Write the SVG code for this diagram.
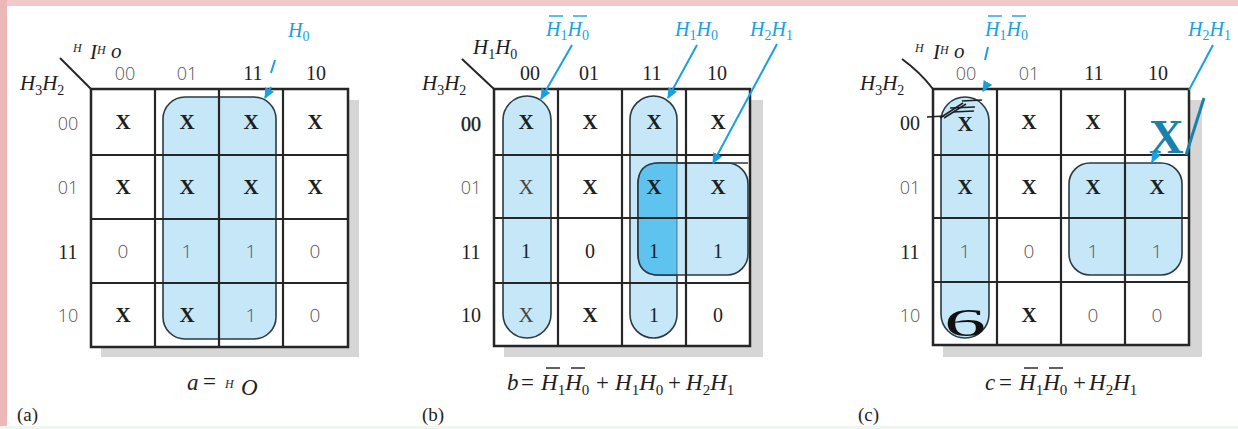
<svg xmlns="http://www.w3.org/2000/svg" width="1238" height="429" viewBox="0 0 1238 429">
<style>
.bg{fill:#ffffff}
.shadow{fill:#d6d6d6}
.cell{fill:#ffffff}
.grid{fill:none;stroke:#262626;stroke-width:2.5}
.gl{stroke:#262626;stroke-width:2.2}
.grp{fill:#c6e7f8;stroke:#2a3a44;stroke-width:1.6}
.ov{fill:#5fc3ef}
.diag{stroke:#262626;stroke-width:2;fill:none}
.x{font-family:"Liberation Serif",serif;font-weight:bold;font-size:21px;fill:#1e1e1e;text-anchor:middle}
.xs{font-family:"Liberation Serif",serif;font-size:21px;fill:#444;text-anchor:middle}
.n{font-family:"Open Sans","Liberation Sans",sans-serif;font-weight:300;font-size:19px;fill:#555;text-anchor:middle}
.ns{font-family:"Liberation Serif",serif;font-size:20px;fill:#1e1e1e;text-anchor:middle}
.lbl{font-family:"Open Sans","Liberation Sans",sans-serif;font-weight:300;font-size:18px;fill:#555;text-anchor:middle}
.lbs{font-family:"Liberation Serif",serif;font-size:20px;fill:#1e1e1e;text-anchor:middle}
.m{font-family:"Liberation Serif",serif;font-style:italic;font-size:21px;fill:#1e1e1e}
.f{font-family:"Liberation Serif",serif;font-style:italic;font-size:23px;fill:#1e1e1e}
.fo{font-family:"Liberation Serif",serif;font-size:23px;fill:#1e1e1e}
.sub{font-family:"Liberation Serif",serif;font-style:normal;font-size:14px;fill:#1e1e1e}
.fsub{font-family:"Liberation Serif",serif;font-style:normal;font-size:15px;fill:#1e1e1e}
.bm{font-family:"Liberation Serif",serif;font-style:italic;font-size:20px;fill:#1aa0e0}
.bsub{font-family:"Liberation Serif",serif;font-style:normal;font-size:14px}
.tiny{font-family:"Liberation Serif",serif;font-style:italic;font-size:12px;fill:#1e1e1e}
.cap{font-family:"Liberation Serif",serif;font-size:19px;fill:#1e1e1e}
.arr{stroke:#1aa0e0;stroke-width:2;fill:none}
.ob{stroke:#1e1e1e;stroke-width:1.4}
.obb{stroke:#1aa0e0;stroke-width:1.4}
</style>
<defs>
<marker id="ah" viewBox="0 0 10 10" refX="9" refY="5" markerWidth="11" markerHeight="11" markerUnits="userSpaceOnUse" orient="auto">
<path d="M0,0.5 L10,5 L0,9.5 z" fill="#1aa0e0"/>
</marker>
</defs>
<rect class="bg" x="0" y="0" width="1238" height="429"/>
<rect x="0" y="0" width="1238" height="6" fill="#f2c9c9"/>
<rect x="0" y="0" width="7" height="429" fill="#ebb7b7"/>
<rect x="0" y="426" width="1238" height="3" fill="#eef6f0"/>

<!-- Panel (a) -->
<g id="panel-a">
<rect class="shadow" x="101" y="100" width="258" height="257"/>
<rect class="cell" x="91" y="89" width="257" height="258"/>
<rect class="grp" x="163" y="97" width="113" height="242" rx="22"/>
<g id="grid-a">
<line class="gl" x1="155" y1="89" x2="155" y2="347"/>
<line class="gl" x1="219" y1="89" x2="219" y2="347"/>
<line class="gl" x1="283" y1="89" x2="283" y2="347"/>
<line class="gl" x1="91" y1="155" x2="348" y2="155"/>
<line class="gl" x1="91" y1="219" x2="348" y2="219"/>
<line class="gl" x1="91" y1="283" x2="348" y2="283"/>
<rect class="grid" x="91" y="89" width="257" height="258"/>
</g>
<line class="diag" x1="60" y1="58" x2="91" y2="89"/>
<text class="m" x="20" y="90">H<tspan class="sub" dy="5">3</tspan><tspan dy="-5">H</tspan><tspan class="sub" dy="5">2</tspan></text>
<text class="tiny" x="73" y="52">H</text>
<text class="m" x="90" y="59" font-size="16">I</text>
<text class="tiny" x="97" y="54">H</text>
<text class="m" x="111" y="58" font-size="15">o</text>
<text class="lbl" x="125" y="80">00</text>
<text class="lbl" x="187" y="80">01</text>
<text class="lbs" x="253" y="80">11</text>
<text class="lbs" x="316" y="80">10</text>
<text class="lbl" x="68" y="130">00</text>
<text class="lbl" x="68" y="194">01</text>
<text class="lbs" x="68" y="259">11</text>
<text class="lbl" x="68" y="322">10</text>
<g id="cells-a">
<text class="x" x="123" y="129">X</text><text class="x" x="187" y="129">X</text><text class="x" x="251" y="129">X</text><text class="x" x="315" y="129">X</text>
<text class="x" x="123" y="194">X</text><text class="x" x="187" y="194">X</text><text class="x" x="251" y="194">X</text><text class="x" x="315" y="194">X</text>
<text class="n" x="123" y="258">0</text><text class="n" x="187" y="258">1</text><text class="n" x="251" y="258">1</text><text class="n" x="315" y="258">0</text>
<text class="x" x="123" y="322">X</text><text class="x" x="187" y="322">X</text><text class="n" x="251" y="322">1</text><text class="n" x="315" y="322">0</text>
</g>
<text class="bm" x="288" y="37">H<tspan class="bsub" dy="4">0</tspan></text>
<text class="f" x="187" y="390" font-size="24">a</text>
<text class="fo" x="203" y="389" font-size="18">=</text>
<text class="tiny" x="225" y="388" font-size="13">H</text>
<text class="f" x="241" y="395" font-size="15">O</text>
<text class="cap" x="17" y="421">(a)</text>
</g>

<!-- Panel (b) -->
<g id="panel-b">
<rect class="shadow" x="504" y="100" width="259" height="257"/>
<rect class="cell" x="494" y="89" width="256" height="257"/>
<rect class="grp" x="503" y="96" width="48" height="242" rx="24"/>
<rect class="grp" x="630" y="96" width="47" height="242" rx="23.5"/>
<rect class="grp" x="638" y="163" width="110" height="112" rx="21"/>
<path class="ov" d="M659,163 L677,163 L677,275 L659,275 Q638,275 638,254 L638,184 Q638,163 659,163 Z"/>
<path d="M659,163 L748,163" fill="none" stroke="#2a3a44" stroke-width="1.6"/>
<path d="M659,275 L677,275" fill="none" stroke="#2a3a44" stroke-width="1.6"/>
<path d="M659,163 Q638,163 638,184 L638,254 Q638,275 659,275" fill="none" stroke="#2a3a44" stroke-width="1.6"/>
<line x1="677" y1="163" x2="677" y2="275" stroke="#2a3a44" stroke-width="1.2" opacity="0.5"/>
<g id="grid-b">
<line class="gl" x1="558" y1="89" x2="558" y2="346"/>
<line class="gl" x1="622" y1="89" x2="622" y2="346"/>
<line class="gl" x1="686" y1="89" x2="686" y2="346"/>
<line class="gl" x1="494" y1="155" x2="750" y2="155"/>
<line class="gl" x1="494" y1="218" x2="750" y2="218"/>
<line class="gl" x1="494" y1="283" x2="750" y2="283"/>
<rect class="grid" x="494" y="89" width="256" height="257"/>
</g>
<line class="diag" x1="462" y1="59" x2="494" y2="89"/>
<text class="m" x="422" y="90">H<tspan class="sub" dy="5">3</tspan><tspan dy="-5">H</tspan><tspan class="sub" dy="5">2</tspan></text>
<text class="m" x="473" y="54">H<tspan class="sub" dy="5">1</tspan><tspan dy="-5">H</tspan><tspan class="sub" dy="5">0</tspan></text>
<text class="lbs" x="530" y="80">00</text>
<text class="lbs" x="589" y="80">01</text>
<text class="lbs" x="652" y="80">11</text>
<text class="lbs" x="717" y="80">10</text>
<text class="lbs" x="471" y="131" font-size="21" stroke="#1e1e1e" stroke-width="0.4">00</text>
<text class="lbl" x="471" y="194">01</text>
<text class="lbs" x="471" y="259">11</text>
<text class="lbs" x="471" y="322">10</text>
<g id="cells-b">
<text class="x" x="526" y="129">X</text><text class="x" x="590" y="129">X</text><text class="x" x="654" y="129">X</text><text class="x" x="718" y="129">X</text>
<text class="xs" x="526" y="194" fill="#666">X</text><text class="x" x="590" y="194">X</text><text class="x" x="654" y="194">X</text><text class="x" x="718" y="194">X</text>
<text class="ns" x="526" y="258">1</text><text class="ns" x="590" y="258">0</text><text class="ns" x="654" y="258">1</text><text class="ns" x="718" y="258">1</text>
<text class="xs" x="526" y="322">X</text><text class="x" x="590" y="322">X</text><text class="ns" x="654" y="322">1</text><text class="ns" x="718" y="322">0</text>
</g>
<text class="bm" x="546" y="36">H<tspan class="bsub" dy="4">1</tspan><tspan dy="-4">H</tspan><tspan class="bsub" dy="4">0</tspan></text>
<line class="obb" x1="549" y1="16" x2="563" y2="16"/>
<line class="obb" x1="573" y1="16" x2="587" y2="16"/>
<text class="bm" x="675" y="36">H<tspan class="bsub" dy="4">1</tspan><tspan dy="-4">H</tspan><tspan class="bsub" dy="4">0</tspan></text>
<text class="bm" x="750" y="36">H<tspan class="bsub" dy="4">2</tspan><tspan dy="-4">H</tspan><tspan class="bsub" dy="4">1</tspan></text>
<text class="f" x="507" y="390">b</text>
<text class="fo" x="521" y="390">=</text>
<text class="f" x="541" y="390">H<tspan class="fsub" dy="5">1</tspan><tspan dy="-5">H</tspan><tspan class="fsub" dy="5">0</tspan></text>
<line class="ob" x1="546" y1="368" x2="560" y2="368"/>
<line class="ob" x1="571" y1="368" x2="585" y2="368"/>
<text class="fo" x="596" y="390">+</text>
<text class="f" x="615" y="390">H<tspan class="fsub" dy="5">1</tspan><tspan dy="-5">H</tspan><tspan class="fsub" dy="5">0</tspan></text>
<text class="fo" x="668" y="390">+</text>
<text class="f" x="686" y="390">H<tspan class="fsub" dy="5">2</tspan><tspan dy="-5">H</tspan><tspan class="fsub" dy="5">1</tspan></text>
<text class="cap" x="422" y="421">(b)</text>
</g>

<!-- Panel (c) -->
<g id="panel-c">
<rect class="shadow" x="943" y="100" width="259" height="257"/>
<rect class="cell" x="933" y="89" width="256" height="256"/>
<rect class="grp" x="941" y="97" width="48" height="241" rx="24"/>
<rect class="grp" x="1069" y="163" width="113" height="112" rx="21"/>
<g id="grid-c">
<line class="gl" x1="997" y1="89" x2="997" y2="345"/>
<line class="gl" x1="1061" y1="89" x2="1061" y2="345"/>
<line class="gl" x1="1125" y1="89" x2="1125" y2="345"/>
<line class="gl" x1="933" y1="155" x2="1189" y2="155"/>
<line class="gl" x1="933" y1="218" x2="1189" y2="218"/>
<line class="gl" x1="933" y1="282" x2="1189" y2="282"/>
<rect class="grid" x="933" y="89" width="256" height="256"/>
</g>
<path class="diag" d="M902,59 Q920,72 933,89"/>
<text class="m" x="860" y="90">H<tspan class="sub" dy="5">3</tspan><tspan dy="-5">H</tspan><tspan class="sub" dy="5">2</tspan></text>
<text class="tiny" x="915" y="52">H</text>
<text class="m" x="933" y="59" font-size="16">I</text>
<text class="tiny" x="940" y="54">H</text>
<text class="m" x="954" y="58" font-size="15">o</text>
<text class="lbl" x="966" y="80">00</text>
<text class="lbl" x="1029" y="80">01</text>
<text class="lbs" x="1094" y="80">11</text>
<text class="lbs" x="1158" y="80">10</text>
<text class="lbs" x="910" y="130">00</text>
<text class="lbl" x="910" y="194">01</text>
<text class="lbs" x="910" y="259">11</text>
<text class="lbl" x="910" y="322">10</text>
<g id="cells-c">
<text class="x" x="965" y="131">X</text><text class="x" x="1029" y="129">X</text><text class="x" x="1093" y="129">X</text>
<text class="x" x="965" y="194">X</text><text class="x" x="1029" y="194">X</text><text class="x" x="1093" y="194">X</text><text class="x" x="1157" y="194">X</text>
<text class="n" x="965" y="258">1</text><text class="n" x="1029" y="258">0</text><text class="n" x="1093" y="258">1</text><text class="n" x="1157" y="258">1</text>
<text class="x" x="1029" y="322">X</text><text class="n" x="1093" y="322">0</text><text class="n" x="1157" y="322">0</text>
<text font-family="Liberation Serif,serif" font-size="42" fill="#111" transform="translate(944,336) scale(2,0.95)">6</text>
<text font-family="Liberation Serif,serif" font-weight="bold" font-size="48" fill="#1a80ac" x="1149" y="153">X</text>
</g>
<g id="scribble-c" stroke="#1e1e1e" stroke-width="1.5" fill="none">
<line x1="927" y1="117" x2="944" y2="116"/>
<line x1="940" y1="118" x2="963" y2="103"/>
<line x1="944" y1="118" x2="966" y2="104"/>
<line x1="950" y1="108" x2="975" y2="107"/>
<line x1="953" y1="112" x2="974" y2="111"/>
<line x1="962" y1="101" x2="982" y2="100"/>
</g>
<text class="bm" x="985" y="36" fill="#3aa3cf">H<tspan class="bsub" dy="4">1</tspan><tspan dy="-4">H</tspan><tspan class="bsub" dy="4">0</tspan></text>
<line class="obb" x1="988" y1="16" x2="1002" y2="16" stroke="#3aa3cf"/>
<line class="obb" x1="1012" y1="16" x2="1026" y2="16" stroke="#3aa3cf"/>
<text class="bm" x="1188" y="36" fill="#3aa3cf">H<tspan class="bsub" dy="4">2</tspan><tspan dy="-4">H</tspan><tspan class="bsub" dy="4">1</tspan></text>
<text class="f" x="985" y="390">c</text>
<text class="fo" x="999" y="390">=</text>
<text class="f" x="1019" y="390">H<tspan class="fsub" dy="5">1</tspan><tspan dy="-5">H</tspan><tspan class="fsub" dy="5">0</tspan></text>
<line class="ob" x1="1024" y1="368" x2="1038" y2="368"/>
<line class="ob" x1="1049" y1="368" x2="1063" y2="368"/>
<text class="fo" x="1073" y="390">+</text>
<text class="f" x="1089" y="390">H<tspan class="fsub" dy="5">2</tspan><tspan dy="-5">H</tspan><tspan class="fsub" dy="5">1</tspan></text>
<text class="cap" x="858" y="421">(c)</text>
</g>

<g id="connectors">
<line class="arr" x1="275" y1="60" x2="271" y2="73"/>
<line class="arr" x1="271" y1="87" x2="265" y2="98" marker-end="url(#ah)"/>
<line class="arr" x1="572" y1="45" x2="541" y2="99" marker-end="url(#ah)"/>
<line class="arr" x1="697" y1="45" x2="668" y2="98" marker-end="url(#ah)"/>
<line class="arr" x1="777" y1="44" x2="713" y2="163" marker-end="url(#ah)"/>
<line class="arr" x1="988" y1="47" x2="985" y2="60" stroke="#3aa3cf"/>
<line class="arr" x1="987" y1="84" x2="983" y2="91" marker-end="url(#ah)"/>
<line class="arr" x1="1213" y1="45" x2="1189" y2="90" stroke="#2a9cc4"/>
<line x1="1186" y1="155" x2="1204" y2="98" stroke="#1a80ac" stroke-width="3"/>
<line class="arr" x1="1158" y1="150" x2="1152" y2="162" stroke="#1a80ac" marker-end="url(#ah)"/>
</g>
</svg>
